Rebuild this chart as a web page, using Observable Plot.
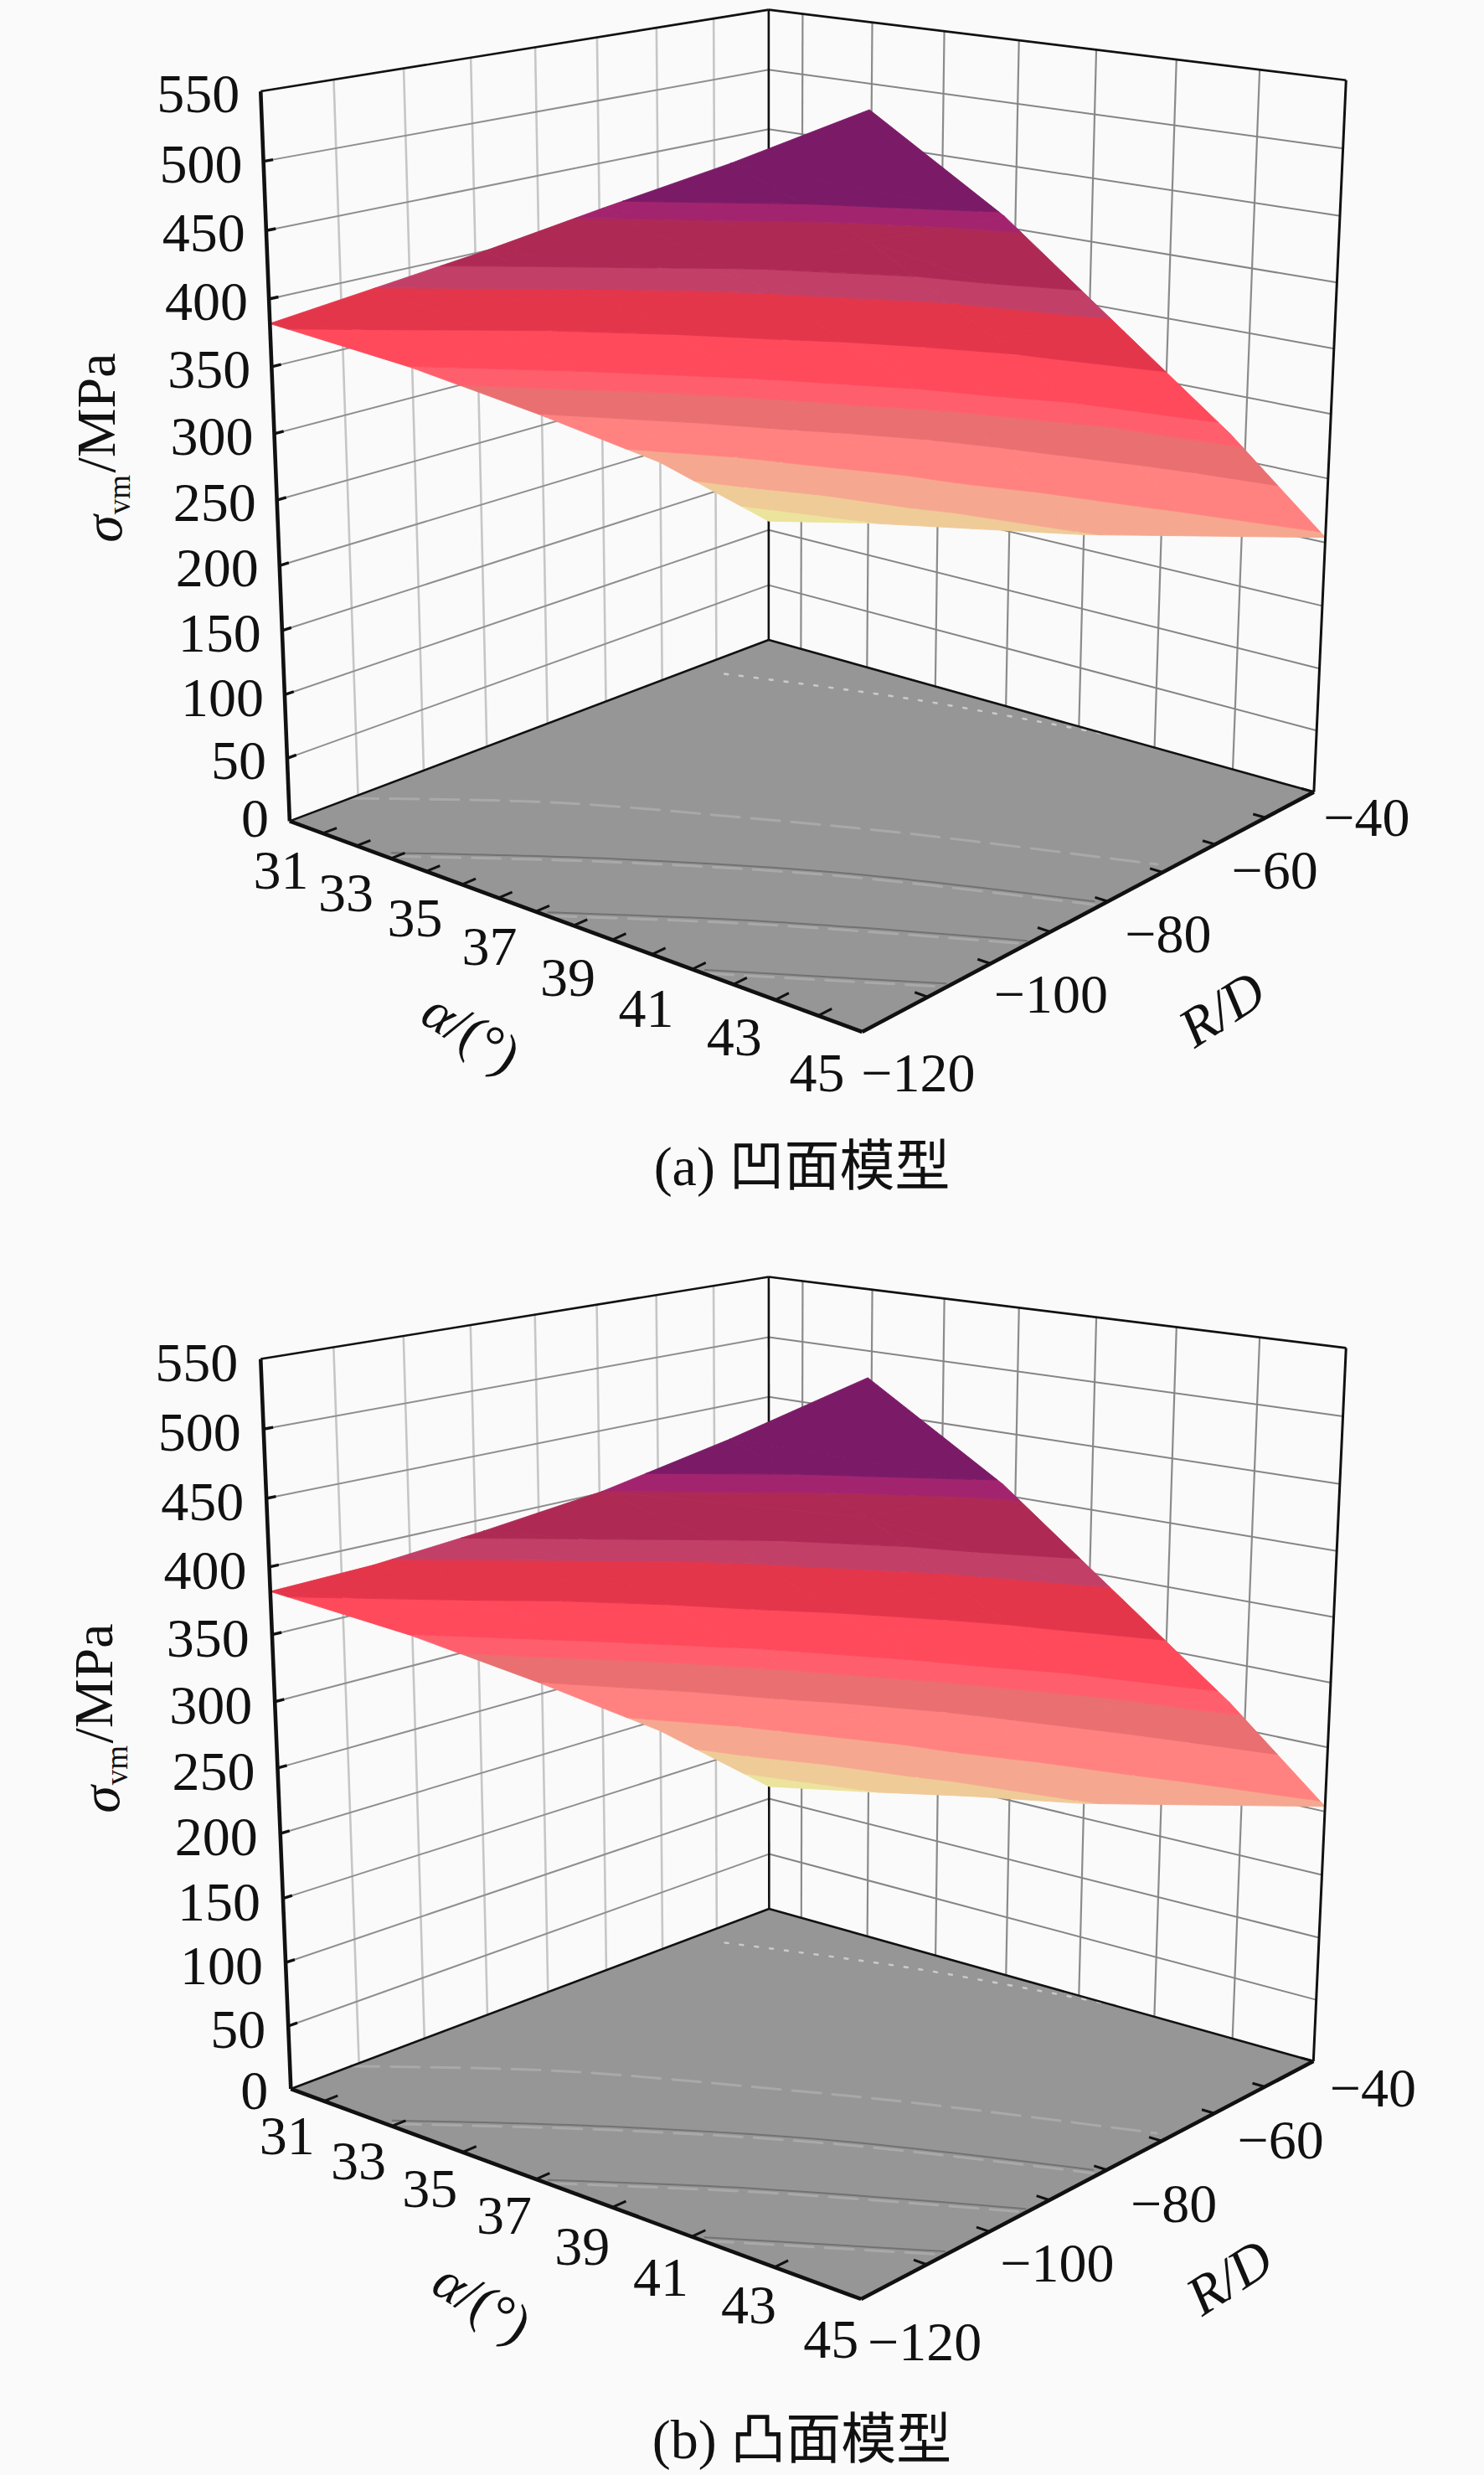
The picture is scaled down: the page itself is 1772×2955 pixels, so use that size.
<!DOCTYPE html><html><head><meta charset="utf-8">
<script src="https://cdn.jsdelivr.net/npm/d3@7"></script>
<script src="https://cdn.jsdelivr.net/npm/@observablehq/plot@0.6"></script>
<style>html,body{margin:0;padding:0;background:#fafafa}svg{display:block}</style></head><body>
<div id="chart"></div>
<script>
// ---- Axis values
const alphaMajor=[31,33,35,37,39,41,43];
const alphaMinor=[32,34,36,38,40,42,44];
const alphaLabels=[31,33,35,37,39,41,43,45];
const rdGrid=[-110,-100,-90,-80,-70,-60,-50];
const rdLabels=[-120,-100,-80,-60,-40];
const zGrid=[50,100,150,200,250,300,350,400,450,500];
const zLabels=[0,50,100,150,200,250,300,350,400,450,500,550];
// ---- Surface samples (σvm, MPa)
const surfAlpha=[30,33,36,39,42,45];
const surfRD=[-120,-100,-80,-60,-40];
const surfaceA=[
 [382,424,466,510,553,599],
 [323,361,402,442,481,513],
 [258,291,325,360,392,413],
 [190,216,244,273,298,313],
 [108,128,145,162,183,204]];
const surfaceB=[
 [382,418,458,500,548,599],
 [323,358,397,436,476,513],
 [258,289,322,354,386,413],
 [190,215,241,268,293,313],
 [111,128,146,162,183,204]];
// ---- Contour bands
const bandLevels=[130,165,210,260,300,325,375,425,450,500,517];
const bandColors=["#ece39c","#efcb98","#f6a790","#ff8280","#e96f70","#ff5f6c","#ff4a5c","#e4364a","#c24068","#ae2a55","#a3246e","#7b1b68"];
// ---- Contour traces on the floor (α, R/D)
const floorTraces=[
 [[30.0,-111.2],[33.4,-97.3],[37.3,-86.0],[40.1,-78.7],[44.7,-68.6]],
 [[32.8,-118.9],[36.4,-104.6],[40.2,-92.1],[44.8,-80.9]],
 [[37.2,-119.3],[40.6,-106.7],[44.9,-93.3]],
 [[41.2,-119.3],[44.9,-106.5]]];
const floorDotted=[[30.8,-53.3],[35.2,-45.3],[40.0,-39.8]];
// ---- Cameras: where the box corners land (u,v,w → x,y)
const cameraA=[[0,0,0,346,980],[1,0,0,1028,1232],[1,1,0,1569,944],[0,1,0,917,764],[0,0,1,311,108],[1,1,1,1607,96],[0,1,1,917,11]];
const cameraB=[[0,0,0,348,2494],[1,0,0,1026,2745],[1,1,0,1569,2459],[0,1,0,917,2279],[0,0,1,311,1621],[1,1,1,1607,1610],[0,1,1,917,1524]];

function solveCamera(anch){const R=[],S=[];for(const [u,v,w,x,y] of anch){R.push([u,v,w,1,0,0,0,0,-x*u,-x*v,-x*w]);S.push(x);R.push([0,0,0,0,u,v,w,1,-y*u,-y*v,-y*w]);S.push(y);}
 const n=11,M=Array.from({length:n},(_,i)=>{const r=new Array(n+1).fill(0);for(let j=0;j<n;j++)for(let k=0;k<R.length;k++)r[j]+=R[k][i]*R[k][j];for(let k=0;k<R.length;k++)r[n]+=R[k][i]*S[k];return r;});
 for(let i=0;i<n;i++){let p=i;for(let k=i+1;k<n;k++)if(Math.abs(M[k][i])>Math.abs(M[p][i]))p=k;[M[i],M[p]]=[M[p],M[i]];for(let k=0;k<n;k++)if(k!==i){const f=M[k][i]/M[i][i];for(let j=i;j<=n;j++)M[k][j]-=f*M[i][j];}}
 return M.map((r,i)=>r[n]/r[i]);}
const camera=a=>{const p=solveCamera(a);return (al,rd,z)=>{const u=(al-30)/15,v=(rd+120)/80,w=z/550,d=p[8]*u+p[9]*v+p[10]*w+1;return[(p[0]*u+p[1]*v+p[2]*w+p[3])/d,(p[4]*u+p[5]*v+p[6]*w+p[7])/d];};};

function clip(poly,test,lvl){const out=[];for(let i=0;i<poly.length;i++){const a=poly[i],b=poly[(i+1)%poly.length],ia=test(a[2]),ib=test(b[2]);if(ia)out.push(a);if(ia!==ib){const t=(lvl-a[2])/(b[2]-a[2]);out.push([a[0]+t*(b[0]-a[0]),a[1]+t*(b[1]-a[1]),lvl]);}}return out;}
function bands(grid,pr,tag){const rows=[];let id=0;const edges=[-Infinity,...bandLevels,Infinity];
 const tri=T=>{for(let b=0;b<edges.length-1;b++){let q=T;const lo=edges[b],hi=edges[b+1];if(lo>-Infinity)q=clip(q,z=>z>=lo,lo);if(q.length&&hi<Infinity)q=clip(q,z=>z<=hi,hi);if(q.length<3)continue;const key=tag+(id++),v=lo>-Infinity?(hi<Infinity?(lo+hi)/2:lo+1):hi-1;for(const p of q){const[x,y]=pr(p[0],p[1],p[2]);rows.push({id:key,x,y,v});}}};
 for(let r=0;r<surfRD.length-1;r++)for(let c=0;c<surfAlpha.length-1;c++){const P=(i,j)=>[surfAlpha[j],surfRD[i],grid[i][j]];tri([P(r,c),P(r,c+1),P(r+1,c+1)]);tri([P(r,c),P(r+1,c+1),P(r+1,c)]);}
 return rows;}

const serif='"Liberation Serif","Noto Sans CJK SC",serif';
function link(rows,o){return Plot.link(rows,{x1:d=>d[0][0],y1:d=>d[0][1],x2:d=>d[1][0],y2:d=>d[1][1],...o});}
function panel(cfg){const pr=camera(cfg.camera),m=[];
 const leftZ=zGrid.map(z=>[pr(30,-120,z),pr(30,-40,z)]),backZ=zGrid.map(z=>[pr(30,-40,z),pr(45,-40,z)]);
 const leftV=rdGrid.map(r=>[pr(30,r,0),pr(30,r,550)]),backV=alphaMajor.map(a=>[pr(a,-40,0),pr(a,-40,550)]);
 m.push(link(leftV,{stroke:"#c6c6c6",strokeWidth:2.6}),link(leftZ,{stroke:"#8f8f8f",strokeWidth:2}),link(backV,{stroke:"#8b8b8b",strokeWidth:2.2}),link(backZ,{stroke:"#858585",strokeWidth:2}));
 // floor
 const fl=[pr(30,-120,0),pr(45,-120,0),pr(45,-40,0),pr(30,-40,0)].map(([x,y])=>({x,y}));
 m.push(Plot.line(fl,{x:"x",y:"y",fill:"#969696",stroke:"#969696",curve:"linear-closed"}));
 floorTraces.forEach((t,i)=>{const pts=t.map(([a,r])=>pr(a,r,0)).map(([x,y])=>({x,y}));
  m.push(Plot.line(pts,{x:"x",y:"y",curve:"catmull-rom",stroke:"#a9a9a9",strokeWidth:3,strokeDasharray:"34 14",dy:i?4:0}));
  if(i)m.push(Plot.line(pts,{x:"x",y:"y",curve:"catmull-rom",stroke:"#727272",strokeWidth:2}));});
 m.push(Plot.line(floorDotted.map(([a,r])=>pr(a,r,0)).map(([x,y])=>({x,y})),{x:"x",y:"y",curve:"catmull-rom",stroke:"#c9c9c9",strokeWidth:2.6,strokeDasharray:"4 14"}));
 // box frame behind the surface
 const thin=[[pr(30,-40,0),pr(30,-40,550)],[pr(30,-120,0),pr(30,-40,0)],[pr(30,-40,0),pr(45,-40,0)],[pr(30,-120,550),pr(30,-40,550)],[pr(30,-40,550),pr(45,-40,550)]];
 m.push(link(thin,{stroke:"#111",strokeWidth:2.6}));
 // surface
 m.push(Plot.line(bands(cfg.grid,pr,cfg.tag),{x:"x",y:"y",z:"id",fill:"v",stroke:"v",strokeWidth:0.9,curve:"linear-closed"}));
 // axis frame in front
 m.push(link([[pr(45,-40,0),pr(45,-40,550)]],{stroke:"#111",strokeWidth:3}));
 m.push(link([[pr(30,-120,0),pr(30,-120,550)],[pr(30,-120,0),pr(45,-120,0)],[pr(45,-120,0),pr(45,-40,0)]],{stroke:"#111",strokeWidth:4.6}));
 // ticks
 m.push(link(zGrid.map(z=>[pr(30,-120,z),pr(30,-118.7,z)]),{stroke:"#111",strokeWidth:3.4}));
 const at=cfg.minor?[...alphaMajor,...alphaMinor]:alphaMajor;
 m.push(link(at.map(a=>[pr(a,-120,0),pr(a,-118,0)]),{stroke:"#111",strokeWidth:3}));
 m.push(link([...rdGrid,-40].map(r=>[pr(45,r,0),pr(44.7,r,0)]),{stroke:"#111",strokeWidth:3}));
 // tick labels
 const txt=(rows,o)=>Plot.text(rows,{x:"x",y:"y",text:"t",fontFamily:serif,fontSize:66,fill:"#111",...o});
 m.push(txt(zLabels.map(z=>{const[x,y]=pr(30,-120,z);return{x:x+cfg.zdx,y:y+(z===0?cfg.zero:cfg.zdy),t:String(z)};}),{textAnchor:"end"}));
 m.push(txt(alphaLabels.map((a,i)=>{const[x,y]=pr(a,-120,0);return{x:x+cfg.adx[i],y:y+cfg.ady[i],t:String(a)};})));
 m.push(txt(rdLabels.map((r,i)=>{const[x,y]=pr(45,r,0);return{x:x+cfg.rdx[i],y:y+cfg.rdy[i],t:"\u2212"+Math.abs(r)};})));
 // axis titles
 const rot=32,th=rot*Math.PI/180,[cx,cy]=cfg.atitle;
 m.push(txt([{x:cx-44*Math.cos(th),y:cy-44*Math.sin(th),t:"\u03b1"}],{rotate:rot,fontStyle:"italic"}));
 m.push(txt([{x:cx+17*Math.cos(th),y:cy+17*Math.sin(th),t:"/(\u00b0)"}],{rotate:rot}));
 m.push(txt([{x:cfg.rtitle[0],y:cfg.rtitle[1],t:"R/D"}],{rotate:-33,fontStyle:"italic"}));
 const[sx,sy]=cfg.ytitle;
 m.push(txt([{x:sx+8,y:sy+67,t:"\u03c3"}],{rotate:-90,fontStyle:"italic"}));
 m.push(txt([{x:sx+28,y:sy+26,t:"vm"}],{rotate:-90,fontSize:37}));
 m.push(txt([{x:sx,y:sy,t:"/MPa"}],{rotate:-90,textAnchor:"start"}));
 m.push(txt([{x:cfg.cap[0],y:cfg.cap[1],t:cfg.caption}],{fontSize:66}));
 return m;}

const marks=[
 ...panel({tag:"a",camera:cameraA,grid:surfaceA,minor:true,zdx:-25,zdy:4,zero:-3,adx:[-50,-54,-56,-55,-53,-55,-49,-54],ady:[45,42,41,42,46,48,45,50],rdx:[67,72,72,71,63],rdy:[50,37,40,32,31],atitle:[562,1233],rtitle:[1459,1205],ytitle:[115,564],cap:[957,1393],caption:"(a) 凹面模型"}),
 ...panel({tag:"b",camera:cameraB,grid:surfaceB,minor:false,zdx:-27,zdy:5,zero:3,adx:[-44,-40,-39,-38,-36,-37,-31,-36],ady:[42,42,44,44,47,49,46,49],rdx:[76,81,80,79,71],rdy:[52,39,41,33,33],atitle:[575,2749],rtitle:[1468,2719],ytitle:[112,2081],cap:[957,2913],caption:"(b) 凸面模型"})
];
const chart=Plot.plot({width:1772,height:2955,margin:0,
 x:{domain:[0,1772],range:[0,1772],axis:null},
 y:{domain:[0,2955],range:[0,2955],axis:null},
 color:{type:"threshold",domain:bandLevels,range:bandColors},
 style:{background:"#fafafa"},marks});
document.getElementById("chart").append(chart);
</script></body></html>
